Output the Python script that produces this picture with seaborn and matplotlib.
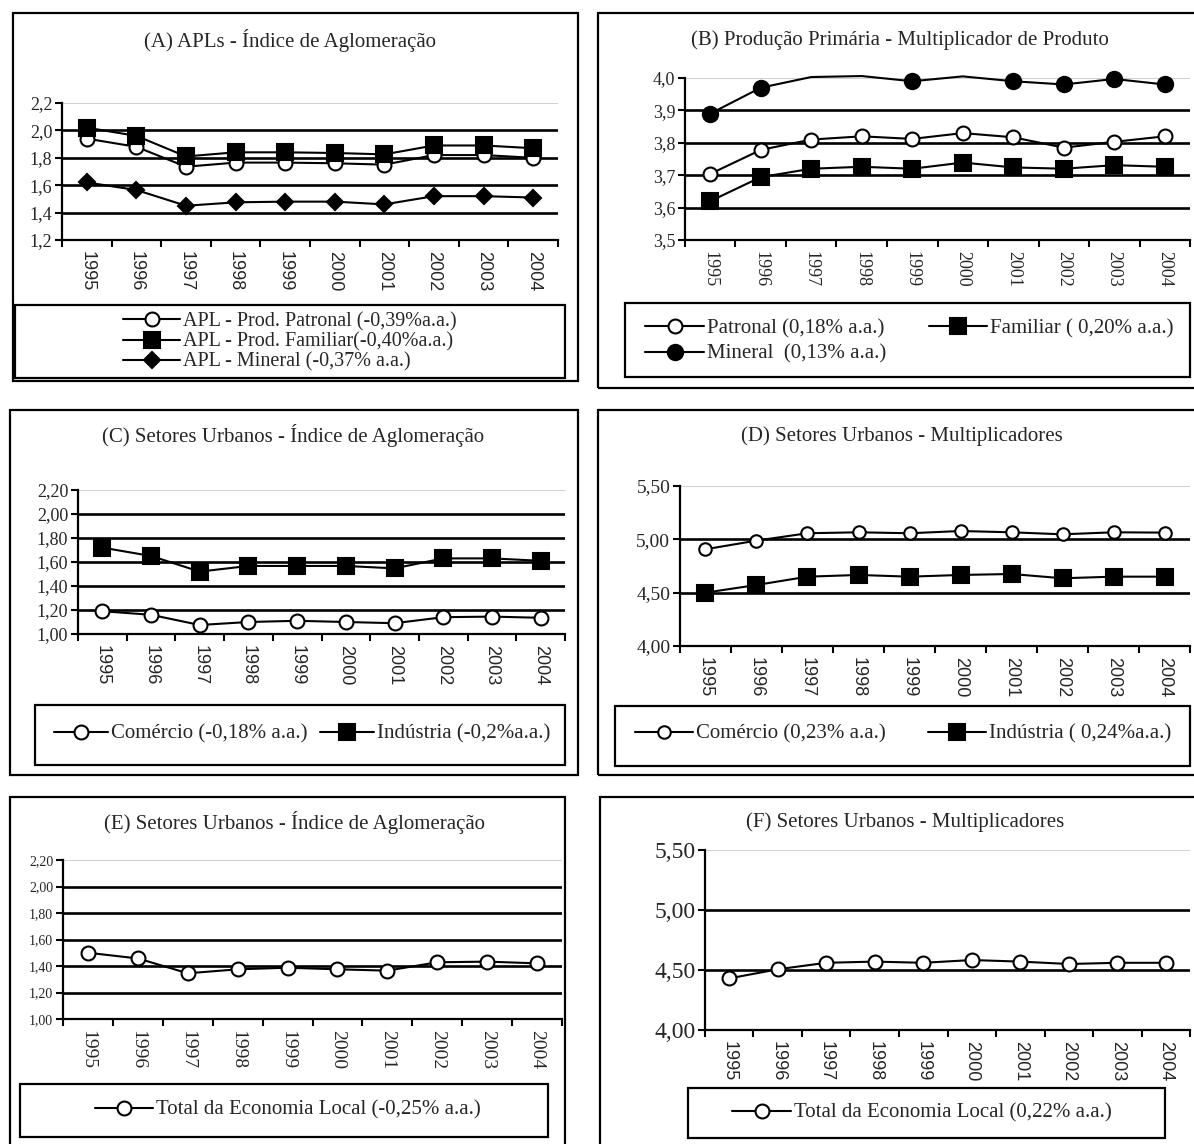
import matplotlib
matplotlib.use('Agg')
import matplotlib.pyplot as plt
from matplotlib.lines import Line2D
from matplotlib.patches import Rectangle
import numpy as np
import seaborn as sns

years = ['1995', '1996', '1997', '1998', '1999', '2000', '2001', '2002', '2003', '2004']

# (A) APLs - indice de aglomeracao
a_patronal = [1.94, 1.88, 1.735, 1.765, 1.765, 1.76, 1.75, 1.82, 1.82, 1.80]
a_familiar = [2.02, 1.96, 1.81, 1.84, 1.84, 1.835, 1.825, 1.89, 1.89, 1.87]
a_mineral = [1.62, 1.565, 1.45, 1.475, 1.48, 1.48, 1.46, 1.52, 1.52, 1.51]

# (B) producao primaria - multiplicador de produto
b_patronal = [3.704, 3.778, 3.81, 3.82, 3.812, 3.83, 3.817, 3.785, 3.803, 3.82]
b_familiar = [3.62, 3.694, 3.72, 3.726, 3.72, 3.739, 3.724, 3.72, 3.731, 3.726]
b_mineral = [3.89, 3.97, 4.003, 4.006, 3.99, 4.005, 3.99, 3.98, 3.997, 3.98]

# (C) setores urbanos - indice de aglomeracao
c_comercio = [1.19, 1.16, 1.075, 1.10, 1.11, 1.10, 1.09, 1.14, 1.145, 1.135]
c_industria = [1.72, 1.65, 1.52, 1.567, 1.567, 1.567, 1.547, 1.63, 1.63, 1.61]

# (D) setores urbanos - multiplicadores
d_comercio = [4.907, 4.988, 5.057, 5.066, 5.057, 5.078, 5.066, 5.047, 5.066, 5.063]
d_industria = [4.50, 4.572, 4.65, 4.666, 4.65, 4.666, 4.675, 4.635, 4.65, 4.65]

# (E) / (F) total da economia local
e_total = [1.50, 1.457, 1.345, 1.375, 1.387, 1.375, 1.365, 1.428, 1.433, 1.42]
f_total = [4.43, 4.506, 4.56, 4.57, 4.56, 4.583, 4.57, 4.55, 4.56, 4.56]

W, H = 1194, 1144
SANS = ['Liberation Sans', 'DejaVu Sans']
SERIF = ['Liberation Serif', 'DejaVu Serif']


def setup():
    sns.set_style('white')
    plt.rcParams['font.family'] = SERIF


def fx(x):
    return x / W


def fy(y):
    return 1 - y / H


def box(fig, l, t, r, b, lw=1.6):
    fig.add_artist(Rectangle((fx(l), fy(b)), fx(r - l), (b - t) / H, transform=fig.transFigure,
                             fill=False, ec='black', lw=lw))


def make_axes(fig, l, t, r, b, ylim, yticks, ndec, ysize, xsize, xfont=SANS):
    ax = fig.add_axes([fx(l), fy(b), fx(r - l), (b - t) / H])
    ax.set_xlim(-0.5, 9.5)
    ax.set_ylim(ylim)
    ax.set_yticks(yticks)
    ax.set_yticklabels([f'{v:.{ndec}f}'.replace('.', ',') for v in yticks], fontsize=ysize)
    ax.set_xticks(range(len(years)))
    ax.set_xticklabels(years, rotation=-90, fontsize=xsize, va='top', ha='center', family=xfont)
    ax.set_xticks(np.arange(-0.5, len(years), 1), minor=True)
    ax.tick_params(axis='x', which='major', bottom=True, length=0, pad=8)
    ax.tick_params(axis='x', which='minor', bottom=True, length=5, width=1.5, color='black')
    ax.tick_params(axis='y', left=True, length=5, width=1.5, color='black', pad=2)
    for s in ['top', 'right']:
        ax.spines[s].set_visible(False)
    for s in ['left', 'bottom']:
        ax.spines[s].set_color('black')
        ax.spines[s].set_linewidth(1.6)
    ax.yaxis.grid(True, color='black', lw=1.9)
    ax.set_axisbelow(True)
    gl = ax.get_ygridlines()
    gl[-1].set_color('#c8c8c8')
    gl[-1].set_linewidth(1.2)
    ax.set_xlabel('')
    ax.set_ylabel('')
    return ax


def series(ax, vals, marker, ms, face, keep=None):
    sns.lineplot(x=np.arange(len(vals)), y=vals, ax=ax, color='black', lw=1.5,
                 marker=marker, markersize=ms, markerfacecolor=face, markeredgecolor='black',
                 markeredgewidth=1.5, markevery=keep, clip_on=False, zorder=3)
    return Line2D([], [], color='black', lw=1.5, marker=marker, markersize=ms,
                  markerfacecolor=face, markeredgecolor='black', markeredgewidth=1.5)


def title(fig, cx, cy, text, size=15):
    fig.text(fx(cx), fy(cy), text, ha='center', va='center', fontsize=size)


def show_panels():
    fig = plt.figure(figsize=(W / 100, H / 100), dpi=100)

    # panel frames
    box(fig, 13, 13, 578, 381)
    box(fig, 598, 13, 1210, 388)
    box(fig, 10, 410, 578, 775)
    box(fig, 598, 410, 1210, 775)
    box(fig, 10, 797, 565, 1160)
    box(fig, 600, 797, 1210, 1160)

    # (A)
    title(fig, 290, 40, '(A) APLs - Índice de Aglomeração')
    ax = make_axes(fig, 62, 103, 558, 240, (1.2, 2.2), [1.2, 1.4, 1.6, 1.8, 2.0, 2.2], 1, 13, 13)
    h1 = series(ax, a_patronal, 'o', 10, 'white')
    h2 = series(ax, a_familiar, 's', 11, 'black')
    h3 = series(ax, a_mineral, 'D', 8, 'black')
    box(fig, 15, 305, 565, 378)
    fig.legend([h1, h2, h3], ['APL - Prod. Patronal (-0,39%a.a.)', 'APL - Prod. Familiar(-0,40%a.a.)',
                              'APL - Mineral (-0,37% a.a.)'],
               loc='center', bbox_to_anchor=(fx(290), fy(342)), bbox_transform=fig.transFigure,
               frameon=False, fontsize=14.5, handlelength=2.8, handletextpad=0.15, labelspacing=0.05,
               borderpad=0)

    # (B)
    title(fig, 900, 40, '(B) Produção Primária - Multiplicador de Produto')
    ax = make_axes(fig, 685, 78, 1190, 240, (3.5, 4.0), [3.5, 3.6, 3.7, 3.8, 3.9, 4.0], 1, 13, 13,
                   xfont=SERIF)
    h1 = series(ax, b_patronal, 'o', 10, 'white')
    h2 = series(ax, b_familiar, 's', 11, 'black')
    shown = [i for i, v in enumerate(b_mineral) if v <= 4.0]
    h3 = series(ax, b_mineral, 'o', 11, 'black', keep=shown)
    box(fig, 625, 303, 1190, 377)
    fig.legend([h1, h3, h2], ['Patronal (0,18% a.a.)', 'Mineral  (0,13% a.a.)', 'Familiar ( 0,20% a.a.)'],
               ncol=2, loc='upper left', bbox_to_anchor=(fx(635), fy(308)), bbox_transform=fig.transFigure,
               frameon=False, fontsize=15, handlelength=2.8, handletextpad=0.15, labelspacing=0.3,
               columnspacing=2.05, borderpad=0)

    # (C)
    title(fig, 293, 436, '(C) Setores Urbanos - Índice de Aglomeração')
    ax = make_axes(fig, 78, 490, 565, 634, (1.0, 2.2), [1.0, 1.2, 1.4, 1.6, 1.8, 2.0, 2.2], 2, 13, 13)
    h1 = series(ax, c_comercio, 'o', 10, 'white')
    h2 = series(ax, c_industria, 's', 11, 'black')
    box(fig, 35, 705, 565, 765)
    fig.legend([h1, h2], ['Comércio (-0,18% a.a.)', 'Indústria (-0,2%a.a.)'], ncol=2,
               loc='center', bbox_to_anchor=(fx(302), fy(734)), bbox_transform=fig.transFigure,
               frameon=False, fontsize=15, handlelength=2.6, handletextpad=0.15, columnspacing=0.6,
               borderpad=0)

    # (D)
    title(fig, 902, 436, '(D) Setores Urbanos - Multiplicadores')
    ax = make_axes(fig, 680, 486, 1190, 646, (4.0, 5.5), [4.0, 4.5, 5.0, 5.5], 2, 14, 13)
    h1 = series(ax, d_comercio, 'o', 9, 'white')
    h2 = series(ax, d_industria, 's', 11, 'black')
    box(fig, 615, 706, 1190, 766)
    fig.legend([h1, h2], ['Comércio (0,23% a.a.)', 'Indústria ( 0,24%a.a.)'], ncol=2,
               loc='center', bbox_to_anchor=(fx(903), fy(734)), bbox_transform=fig.transFigure,
               frameon=False, fontsize=15, handlelength=2.8, handletextpad=0.15, columnspacing=2.0,
               borderpad=0)

    # (E)
    title(fig, 295, 822, '(E) Setores Urbanos - Índice de Aglomeração')
    ax = make_axes(fig, 63, 860, 562, 1019, (1.0, 2.2), [1.0, 1.2, 1.4, 1.6, 1.8, 2.0, 2.2], 2, 10, 14,
                   xfont=SERIF)
    h1 = series(ax, e_total, 'o', 10, 'white')
    box(fig, 20, 1084, 548, 1137)
    fig.legend([h1], ['Total da Economia Local (-0,25% a.a.)'],
               loc='center', bbox_to_anchor=(fx(288), fy(1110)), bbox_transform=fig.transFigure,
               frameon=False, fontsize=15, handlelength=2.8, handletextpad=0.15, borderpad=0)

    # (F)
    title(fig, 905, 822, '(F) Setores Urbanos - Multiplicadores')
    ax = make_axes(fig, 705, 850, 1190, 1030, (4.0, 5.5), [4.0, 4.5, 5.0, 5.5], 2, 17, 13)
    h1 = series(ax, f_total, 'o', 10, 'white')
    box(fig, 688, 1088, 1165, 1138)
    fig.legend([h1], ['Total da Economia Local (0,22% a.a.)'],
               loc='center', bbox_to_anchor=(fx(922), fy(1113)), bbox_transform=fig.transFigure,
               frameon=False, fontsize=15, handlelength=2.8, handletextpad=0.15, borderpad=0)

    fig.savefig('out.png', dpi=100, facecolor='white')
    plt.close(fig)


setup()
show_panels()
